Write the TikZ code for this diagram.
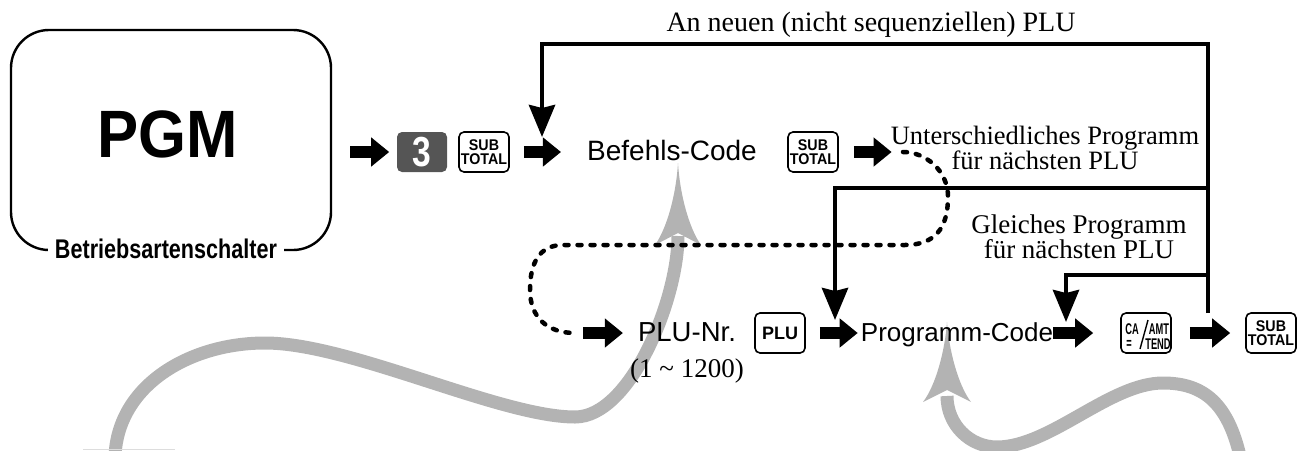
\documentclass[tikz,border=0pt]{standalone}
\usepackage{fontspec}
\setmainfont{Liberation Serif}
\setsansfont{Liberation Sans}
\newfontfamily\condfont{Liberation Sans}[FakeStretch=0.8]
\newfontfamily\pgmfont{Liberation Sans}[FakeStretch=0.92]
\newfontfamily\narrowfont{Liberation Sans}[FakeStretch=0.6]
\usepackage{tikz}
\usetikzlibrary{arrows.meta,positioning,calc}
\definecolor{keydark}{HTML}{555555}
\definecolor{callgrey}{HTML}{B3B3B3}

\begin{document}
\begin{tikzpicture}[x=1pt,y=-1pt,
  key/.style={draw,line width=1.6pt,rounded corners=5pt,minimum width=50pt,minimum height=40pt,inner sep=0pt,align=center,font=\pgmfont\bfseries\fontsize{15.5}{14}\selectfont},
  keyd/.style={key,draw=none,fill=keydark,text=white,font=\condfont\bfseries\fontsize{42}{42}\selectfont},
  capt/.style={inner sep=0pt,font=\narrowfont\bfseries\fontsize{15.5}{15}\selectfont},
  lbl/.style={inner sep=0pt,font=\sffamily\fontsize{27}{30}\selectfont},
  note/.style={inner sep=0pt,align=center,font=\fontsize{27}{25}\selectfont},
  blk/.style={line width=12pt,-{Triangle[length=18pt,width=28pt]}},
  flow/.style={line width=4.5pt,-{Stealth[length=32pt,width=26pt,inset=3pt]}},
  dotline/.style={line width=4.5pt,dash pattern=on 4pt off 9pt,line cap=round},
  callout/.style={callgrey,line width=13pt}]
  \useasboundingbox (0,0) rectangle (1316,450);
  % grey pointers, behind the rest
  \draw[callout] (115,456) .. controls (118,385) and (190,343) .. (265,343)
    .. controls (350,343) and (500,417) .. (575,417)
    .. controls (630,417) and (678,300) .. (678,236);
  \fill[callgrey] (678,163) .. controls (680,195) and (689,228) .. (701,245) -- (678,233) -- (655,245) .. controls (667,228) and (676,195) .. (678,163) -- cycle;
  \draw[callout] (1240,456) .. controls (1228,405) and (1205,383) .. (1163,383)
    .. controls (1110,383) and (1050,447) .. (997,447)
    .. controls (970,447) and (947,425) .. (947,396);
  \fill[callgrey] (947,322) .. controls (949,350) and (958,385) .. (971,402) -- (947,390) -- (923,402) .. controls (936,385) and (945,350) .. (947,322) -- cycle;
  \draw[callgrey!45,line width=1.5pt] (83,449.5) -- (175,449.5);

  % mode switch
  \node[draw,line width=2.4pt,rounded corners=38pt,minimum width=320pt,minimum height=220pt] (mode) at (171,140) {};
  \node[font=\pgmfont\bfseries\fontsize{67}{67}\selectfont] (pgm) at (168,134) {PGM};
  \node[fill=white,inner xsep=7pt,inner ysep=2pt,font=\condfont\bfseries\fontsize{27}{27}\selectfont] (modelbl) at (166,249) {Betriebsartenschalter};

  % first row
  \node[keyd] (k3) at (422,152) {3};
  \node[key] (ks1) at (484,152) {SUB\\TOTAL};
  \node[lbl,anchor=base,font=\sffamily\fontsize{28}{30}\selectfont] (befehl) at (672,160) {Befehls-Code};
  \node[key] (ks2) at (813,152) {SUB\\TOTAL};
  \node[note,font=\fontsize{26.5}{25}\selectfont] (unter) at (1045,148) {Unterschiedliches Programm\\für nächsten PLU};
  \node[note,font=\fontsize{28}{28}\selectfont] (anneu) at (871,25) {An neuen (nicht sequenziellen) PLU};
  \node[note] (gleich) at (1079,237) {Gleiches Programm\\für nächsten PLU};

  % second row
  \node[lbl,anchor=base,font=\sffamily\fontsize{27.5}{30}\selectfont] (plunr) at (687,341) {PLU-Nr.};
  \node[note,anchor=base] (range) at (687,377) {(1 \textasciitilde{} 1200)};
  \node[key,font=\sffamily\bfseries\fontsize{18}{18}\selectfont] (kplu) at (780,333) {PLU};
  \node[lbl,anchor=base,font=\sffamily\fontsize{26}{30}\selectfont] (prog) at (957,341) {Programm-Code};
  \node[key] (kca) at (1146,333) {};
  \draw[line width=1.4pt] ([shift={(-6,16)}]kca.center) -- ([shift={(2,-13)}]kca.center);
  \node[capt] (kca1) at ([shift={(-14,-4)}]kca.center) {CA};
  \node[capt] (kca2) at ([shift={(13,-4)}]kca.center) {AMT};
  \node[capt] (kca3) at ([shift={(-17,11)}]kca.center) {=};
  \node[capt] (kca4) at ([shift={(12,11)}]kca.center) {TEND};
  \node[key] (ks3) at (1271,333) {SUB\\TOTAL};

  % block arrows
  \draw[blk,shorten <=18pt,shorten >=7pt] (mode.east |- k3) -- (k3.west);
  \draw[blk,shorten <=14pt,shorten >=26pt] (ks1.east) -- (ks1.east -| befehl.west);
  \draw[blk,shorten <=15pt,shorten >=-1pt] (ks2.east) -- (ks2.east -| unter.west);
  \coordinate (dstart) at (903,152);
  \coordinate (dend) at (575,333);
  \draw[blk,shorten <=8pt,shorten >=15pt] (dend) -- (dend -| plunr.west);
  \draw[blk,shorten <=14pt,shorten >=3pt] (kplu.east) -- (kplu.east -| prog.west);
  \draw[blk,shorten >=27pt] (prog.east |- kca) -- (kca.west);
  \draw[blk,shorten <=18pt,shorten >=15pt] (kca.east) -- (ks3.west);

  % loops
  \coordinate (j2) at (542,137);
  \coordinate (j5) at (835,320);
  \coordinate (j6) at (1066,322);
  \coordinate (j7) at (1208,313);
  \coordinate (tc) at (871,44);
  \coordinate (b2) at (1208,188);
  \coordinate (b3) at (1208,275);
  \draw[flow] (j7) |- (tc) -| (j2);
  \draw[flow] (b2) -| (j5);
  \draw[flow] (b3) -| (j6);
  \draw[dotline] (dstart) .. controls (925,152) and (948,170) .. (948,197)
    .. controls (948,228) and (935,245) .. (905,245) -- (563,245)
    .. controls (540,245) and (530,262) .. (530,290)
    .. controls (530,318) and (548,333) .. (dend);
\end{tikzpicture}
\end{document}
